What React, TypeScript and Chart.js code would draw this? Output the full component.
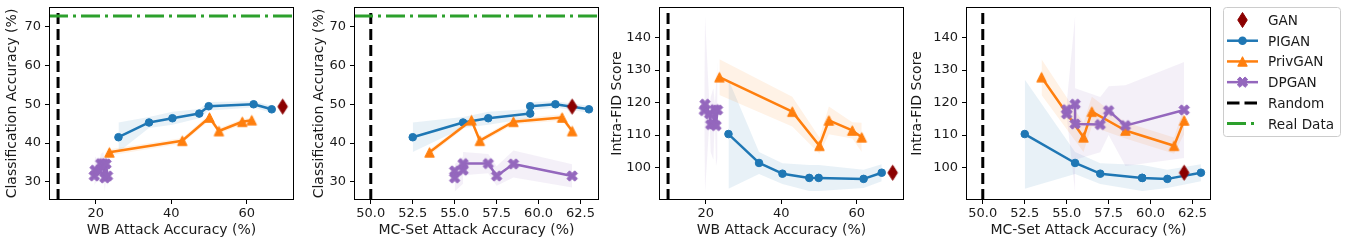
import React, { useEffect, useRef } from 'react';
import { Chart, registerables } from 'chart.js';
Chart.register(...registerables);

const FONT = "'DejaVu Sans', sans-serif";
const TEXT = '#1a1a1a';

// ---------------- data ----------------
const PIGAN_WB = [26.0, 34.1, 40.3, 47.4, 49.9, 61.8, 66.6];
const PIGAN_MC = [52.5, 55.5, 57.0, 59.5, 59.5, 61.0, 63.0];
const PIGAN_ACC = [41.5, 45.3, 46.4, 47.6, 49.5, 50.0, 48.7];
const PIGAN_ACC_STD = [3.8, 1.4, 1.7, 1.2, 1.1, 0.8, 0.9];
const PIGAN_FID = [110.3, 101.4, 98.1, 96.8, 96.8, 96.5, 98.4];
const PIGAN_FID_STD = [16.8, 3.4, 3.2, 4.0, 4.0, 2.8, 2.6];

const PRIVGAN_WB = [23.6, 42.9, 50.1, 52.6, 58.8, 61.3];
const PRIVGAN_MC = [53.5, 56.5, 61.4, 62.0, 58.5, 56.0];
const PRIVGAN_ACC = [37.6, 40.6, 46.6, 43.1, 45.5, 45.9];
const PRIVGAN_ACC_STD = [0.8, 0.7, 0.8, 0.7, 0.7, 0.6];
const PRIVGAN_FID = [127.8, 117.2, 106.7, 114.5, 111.4, 109.3];
const PRIVGAN_FID_STD = [5.5, 4.6, 2.5, 4.3, 2.5, 4.5];

const DPGAN_WB = [21.0, 22.4, 19.8, 22.0, 21.3, 19.6, 22.7, 23.1];
const DPGAN_MC = [55.0, 55.0, 55.5, 55.5, 57.0, 57.5, 58.5, 62.0];
const DPGAN_ACC = [32.8, 31.0, 33.0, 34.7, 34.7, 31.5, 34.6, 31.5];
const DPGAN_ACC_STD = [2.0, 3.5, 3.5, 3.0, 2.5, 2.5, 3.5, 3.0];
const DPGAN_FID = [116.5, 117.8, 119.5, 113.4, 113.2, 117.5, 112.9, 117.7];
const DPGAN_FID_STD = [1.5, 2.0, 27.0, 11.0, 8.5, 7.5, 12.4, 14.8];

const GAN_WB = [69.5];
const GAN_MC = [62.0];
const GAN_ACC = [49.4];
const GAN_FID = [98.4];

const RANDOM_WB = 10;
const RANDOM_MC = 50;
const REAL_ACC = 72.8;

const WB_TICKS = [20, 40, 60];
const MC_TICKS = [50, 52.5, 55, 57.5, 60, 62.5];
const ACC_TICKS = [30, 40, 50, 60, 70];
const FID_TICKS = [100, 110, 120, 130, 140];

const WB_RANGE = [7.6, 72.5];
const MC_RANGE = [49.0, 63.6];
const ACC_RANGE = [25.3, 75.1];
const FID_RANGE = [90.0, 149.4];

const LEGEND_LABELS = ['GAN', 'PIGAN', 'PrivGAN', 'DPGAN', 'Random', 'Real Data'];

const C_GAN = '#8b0000';
const C_PIGAN = '#1f77b4';
const C_PRIV = '#ff7f0e';
const C_DP = '#9467bd';
const C_RANDOM = '#000000';
const C_REAL = '#2ca02c';

// ---------------- helpers ----------------
type Pt = [number, number];
const triPts = (s: number): Pt[] => [[0, -s / 2], [-s / 2, s / 2], [s / 2, s / 2]];
const xPts = (s: number): Pt[] => {
  const base: Pt[] = [[-1, -3], [1, -3], [1, -1], [3, -1], [3, 1], [1, 1], [1, 3], [-1, 3], [-1, 1], [-3, 1], [-3, -1], [-1, -1]];
  const c = Math.SQRT1_2;
  return base.map(([x, y]) => [((x - y) * c * s) / 6, ((x + y) * c * s) / 6] as Pt);
};
const diamondPts = (w: number, h: number): Pt[] => [[0, -h / 2], [w / 2, 0], [0, h / 2], [-w / 2, 0]];

function markerCanvas(pts: Pt[], color: string) {
  const mx = Math.max(...pts.map((p) => Math.abs(p[0])));
  const my = Math.max(...pts.map((p) => Math.abs(p[1])));
  const w = Math.ceil(mx * 2 + 3);
  const h = Math.ceil(my * 2 + 3);
  const c = document.createElement('canvas');
  c.width = w;
  c.height = h;
  const ctx = c.getContext('2d')!;
  ctx.translate(w / 2, h / 2);
  ctx.beginPath();
  pts.forEach(([x, y], i) => (i ? ctx.lineTo(x, y) : ctx.moveTo(x, y)));
  ctx.closePath();
  ctx.fillStyle = color;
  ctx.fill();
  ctx.strokeStyle = color;
  ctx.lineWidth = 1;
  ctx.lineJoin = 'round';
  ctx.stroke();
  return c;
}

const TRI_SIZE = 9.5;
const X_SIZE = 11;
const DIA_W = 9.5;
const DIA_H = 15;

function rgba(hex: string, a: number) {
  const n = parseInt(hex.slice(1), 16);
  return `rgba(${(n >> 16) & 255},${(n >> 8) & 255},${n & 255},${a})`;
}

const SERIES = [
  { name: 'DPGAN', color: C_DP, marker: 'x', WB: DPGAN_WB, MC: DPGAN_MC, ACC: DPGAN_ACC, ACC_STD: DPGAN_ACC_STD, FID: DPGAN_FID, FID_STD: DPGAN_FID_STD },
  { name: 'PrivGAN', color: C_PRIV, marker: 'tri', WB: PRIVGAN_WB, MC: PRIVGAN_MC, ACC: PRIVGAN_ACC, ACC_STD: PRIVGAN_ACC_STD, FID: PRIVGAN_FID, FID_STD: PRIVGAN_FID_STD },
  { name: 'PIGAN', color: C_PIGAN, marker: 'circle', WB: PIGAN_WB, MC: PIGAN_MC, ACC: PIGAN_ACC, ACC_STD: PIGAN_ACC_STD, FID: PIGAN_FID, FID_STD: PIGAN_FID_STD },
];
const GAN: any = { WB: GAN_WB, MC: GAN_MC, ACC: GAN_ACC, FID: GAN_FID };

const PANELS = [
  { xKey: 'WB', yKey: 'ACC', xTitle: 'WB Attack Accuracy (%)', yTitle: 'Classification Accuracy (%)', xRange: WB_RANGE, yRange: ACC_RANGE, xTicks: WB_TICKS, yTicks: ACC_TICKS, randomX: RANDOM_WB, realY: REAL_ACC, left: 0, yW: 49, tpad: 4 },
  { xKey: 'MC', yKey: 'ACC', xTitle: 'MC-Set Attack Accuracy (%)', yTitle: 'Classification Accuracy (%)', xRange: MC_RANGE, yRange: ACC_RANGE, xTicks: MC_TICKS, yTicks: ACC_TICKS, randomX: RANDOM_MC, realY: REAL_ACC, left: 305, yW: 49, tpad: 5.6 },
  { xKey: 'WB', yKey: 'FID', xTitle: 'WB Attack Accuracy (%)', yTitle: 'Intra-FID Score', xRange: WB_RANGE, yRange: FID_RANGE, xTicks: WB_TICKS, yTicks: FID_TICKS, randomX: RANDOM_WB, realY: null, left: 605, yW: 54, tpad: 3.6 },
  { xKey: 'MC', yKey: 'FID', xTitle: 'MC-Set Attack Accuracy (%)', yTitle: 'Intra-FID Score', xRange: MC_RANGE, yRange: FID_RANGE, xTicks: MC_TICKS, yTicks: FID_TICKS, randomX: RANDOM_MC, realY: null, left: 905, yW: 61, tpad: 3.6 },
];
const PLOT_W = 245;
const RIGHT_PAD = 6;
const H = 245;

function sortIdx(xs: number[]) {
  return xs.map((_, i) => i).sort((a, b) => xs[a] - xs[b]);
}

const framePlugin = {
  id: 'frame',
  afterDraw(chart: any) {
    const { ctx, chartArea: a } = chart;
    ctx.save();
    ctx.strokeStyle = '#000';
    ctx.lineWidth = 1;
    ctx.strokeRect(a.left + 0.5, a.top + 0.5, a.right - a.left - 1, a.bottom - a.top - 1);
    ctx.restore();
  },
};

function makeConfig(p: any, mk: any) {
  const top: any[] = [];
  const bands: any[] = [];
  top.push({
    label: 'GAN',
    data: GAN[p.xKey].map((x: number, i: number) => ({ x, y: GAN[p.yKey][i] })),
    showLine: false,
    pointStyle: mk.diamond,
    pointRadius: 6,
    borderWidth: 0,
  });
  for (const s of SERIES as any[]) {
    const xs: number[] = s[p.xKey];
    const ys: number[] = s[p.yKey];
    const sd: number[] = s[p.yKey + '_STD'];
    const idx = sortIdx(xs);
    const style = s.marker === 'circle' ? 'circle' : s.marker === 'tri' ? mk[s.name] : mk[s.name];
    top.push({
      label: s.name,
      data: idx.map((i) => ({ x: xs[i], y: ys[i] })),
      borderColor: s.color,
      backgroundColor: s.color,
      borderWidth: 2.5,
      borderJoinStyle: 'round',
      pointStyle: style,
      pointRadius: s.marker === 'circle' ? 3.8 : 5,
      pointBorderWidth: 1,
      pointBorderColor: s.color,
      pointBackgroundColor: s.color,
      fill: false,
      tension: 0,
    });
    bands.push({
      label: s.name + ' lo',
      data: idx.map((i) => ({ x: xs[i], y: ys[i] - sd[i] })),
      borderWidth: 0,
      pointRadius: 0,
      fill: false,
    });
    bands.push({
      label: s.name + ' hi',
      data: idx.map((i) => ({ x: xs[i], y: ys[i] + sd[i] })),
      borderWidth: 0,
      pointRadius: 0,
      fill: '-1',
      backgroundColor: rgba(s.color, 0.1),
    });
  }
  const lines: any[] = [];
  if (p.realY !== null) {
    lines.push({
      label: 'Real Data',
      data: [{ x: p.xRange[0], y: p.realY }, { x: p.xRange[1], y: p.realY }],
      borderColor: C_REAL,
      borderWidth: 3,
      borderDash: [19, 5, 3, 5],
      pointRadius: 0,
      fill: false,
    });
  }
  lines.push({
    label: 'Random',
    data: [{ x: p.randomX, y: p.yRange[0] }, { x: p.randomX, y: p.yRange[1] }],
    borderColor: C_RANDOM,
    borderWidth: 3,
    borderDash: [11, 5],
    pointRadius: 0,
    fill: false,
  });

  const zeroPad = (s: any) => {
    s.paddingTop = 0;
    s.paddingBottom = 0;
    s.paddingLeft = 0;
    s.paddingRight = 0;
  };
  const tickFont = { family: FONT, size: 13 };
  const titleFont = { family: FONT, size: 14 };
  return {
    type: 'line',
    data: { datasets: [...top, ...lines, ...bands] },
    options: {
      animation: false,
      responsive: false,
      devicePixelRatio: 1,
      events: [],
      layout: { padding: { left: 0, right: RIGHT_PAD, top: 7, bottom: 0 } },
      plugins: { legend: { display: false }, tooltip: { enabled: false } },
      scales: {
        x: {
          type: 'linear',
          min: p.xRange[0],
          max: p.xRange[1],
          afterBuildTicks: (s: any) => {
            s.ticks = p.xTicks.map((v: number) => ({ value: v }));
          },
          afterFit: (s: any) => {
            s.height = 45;
            zeroPad(s);
          },
          grid: { display: true, drawOnChartArea: false, drawTicks: true, tickLength: 4, color: '#000', lineWidth: 1 },
          border: { display: false },
          ticks: {
            color: TEXT,
            font: tickFont,
            padding: 2,
            autoSkip: false,
            maxRotation: 0,
            callback: (v: any) => (p.xKey === 'MC' ? Number(v).toFixed(1) : String(v)),
          },
          title: { display: true, text: p.xTitle, color: TEXT, font: titleFont, padding: { top: 0, bottom: 6.6 } },
        },
        y: {
          type: 'linear',
          min: p.yRange[0],
          max: p.yRange[1],
          afterBuildTicks: (s: any) => {
            s.ticks = p.yTicks.map((v: number) => ({ value: v }));
          },
          afterFit: (s: any) => {
            s.width = p.yW;
            zeroPad(s);
          },
          grid: { display: true, drawOnChartArea: false, drawTicks: true, tickLength: 4, color: '#000', lineWidth: 1 },
          border: { display: false },
          ticks: { color: TEXT, font: tickFont, padding: 4, autoSkip: false, callback: (v: any) => String(v) },
          title: { display: true, text: p.yTitle, color: TEXT, font: titleFont, padding: { top: p.tpad, bottom: 0 } },
        },
      },
    },
    plugins: [framePlugin],
  };
}

function poly(pts: Pt[], cx: number, cy: number) {
  return pts.map(([x, y]) => `${(cx + x).toFixed(2)},${(cy + y).toFixed(2)}`).join(' ');
}

function Legend() {
  const L = 1216;
  const rowY = (i: number) => 20 + i * 20.72;
  const hx0 = 11;
  const hx1 = 42;
  const hc = (hx0 + hx1) / 2;
  const tx = 52;
  const colors = [C_GAN, C_PIGAN, C_PRIV, C_DP, C_RANDOM, C_REAL];
  return (
    <svg width={132} height={245} style={{ position: 'absolute', left: L, top: 0 }}>
      <rect x={7.5} y={7.5} width={117} height={129} rx={3} ry={3} fill="#ffffff" fillOpacity={0.8} stroke="#cccccc" strokeWidth={1} />
      {/* GAN */}
      <polygon points={poly(diamondPts(DIA_W, DIA_H), hc, rowY(0))} fill={C_GAN} stroke={C_GAN} strokeWidth={1} />
      {/* PIGAN */}
      <line x1={hx0} x2={hx1} y1={rowY(1)} y2={rowY(1)} stroke={C_PIGAN} strokeWidth={2.5} />
      <circle cx={hc} cy={rowY(1)} r={4.3} fill={C_PIGAN} />
      {/* PrivGAN */}
      <line x1={hx0} x2={hx1} y1={rowY(2)} y2={rowY(2)} stroke={C_PRIV} strokeWidth={2.5} />
      <polygon points={poly(triPts(TRI_SIZE), hc, rowY(2))} fill={C_PRIV} stroke={C_PRIV} strokeWidth={1} />
      {/* DPGAN */}
      <line x1={hx0} x2={hx1} y1={rowY(3)} y2={rowY(3)} stroke={C_DP} strokeWidth={2.5} />
      <polygon points={poly(xPts(X_SIZE), hc, rowY(3))} fill={C_DP} stroke={C_DP} strokeWidth={1} />
      {/* Random */}
      <line x1={hx0} x2={hx1} y1={rowY(4)} y2={rowY(4)} stroke={C_RANDOM} strokeWidth={3} strokeDasharray="12.5 5" />
      {/* Real */}
      <line x1={hx0} x2={hx1} y1={rowY(5)} y2={rowY(5)} stroke={C_REAL} strokeWidth={3} strokeDasharray="19 5 3 5" />
      {LEGEND_LABELS.map((t, i) => (
        <text key={t} x={tx} y={rowY(i)} dominantBaseline="central" fontFamily={FONT} fontSize={13.6} fill={TEXT}>
          {t}
        </text>
      ))}
      {colors.length ? null : null}
    </svg>
  );
}

export default function App() {
  const r0 = useRef<HTMLCanvasElement>(null);
  const r1 = useRef<HTMLCanvasElement>(null);
  const r2 = useRef<HTMLCanvasElement>(null);
  const r3 = useRef<HTMLCanvasElement>(null);
  const refs = [r0, r1, r2, r3];
  useEffect(() => {
    const mk = {
      diamond: markerCanvas(diamondPts(DIA_W, DIA_H), C_GAN),
      PrivGAN: markerCanvas(triPts(TRI_SIZE), C_PRIV),
      DPGAN: markerCanvas(xPts(X_SIZE), C_DP),
    };
    const charts = PANELS.map((p, i) => new Chart(refs[i].current as HTMLCanvasElement, makeConfig(p, mk) as any));
    return () => charts.forEach((c) => c.destroy());
  }, []);
  return (
    <div style={{ position: 'absolute', left: 0, top: 0, width: 1348, height: 245, background: '#ffffff', overflow: 'hidden' }}>
      {PANELS.map((p, i) => (
        <canvas
          key={i}
          ref={refs[i]}
          width={p.yW + PLOT_W + RIGHT_PAD}
          height={H}
          style={{ position: 'absolute', left: p.left, top: 0 }}
        />
      ))}
      <Legend />
    </div>
  );
}
